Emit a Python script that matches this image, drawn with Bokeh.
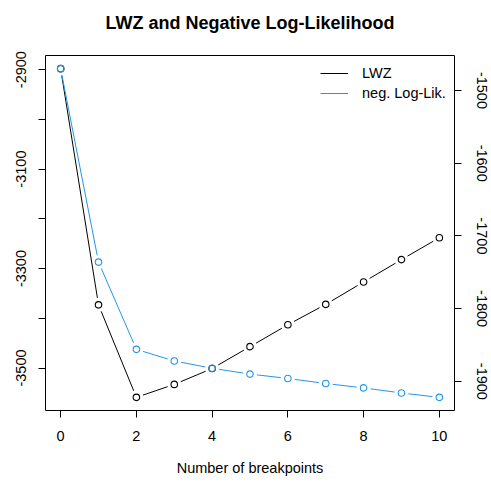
import math
from bokeh.plotting import figure
from bokeh.models import (Range1d, LinearAxis, FixedTicker, Legend, LegendItem,
                          NumeralTickFormatter, Title)
from bokeh.embed import file_html
from bokeh.resources import INLINE

# ---- data ----
breakpoints = [0, 1, 2, 3, 4, 5, 6, 7, 8, 9, 10]
lwz = [-2898, -3373, -3559, -3533, -3501, -3457, -3413, -3372, -3327, -3282, -3238]
neg_loglik = [-1470, -1736, -1856, -1872, -1882, -1890, -1896, -1903, -1909, -1916, -1922]
x_ticks = [0, 2, 4, 6, 8, 10]
left_major = [-3500, -3300, -3100, -2900]
left_minor = [-3400, -3200, -3000]
right_ticks = [-1900, -1800, -1700, -1600, -1500]

BLACK = "#000000"
BLUE = "#2297E6"
FONT = "Liberation Sans"
FS = "14.5px"

FW, FH = 409, 355
ML, MR, MT, MB = 45, 37, 55, 72


def ext(v):
    lo, hi = min(v), max(v)
    d = (hi - lo) * 0.04
    return Range1d(lo - d, hi + d)


xr = ext(breakpoints)
yr = ext(lwz)
yr2 = ext(neg_loglik)

p = figure(width=ML + FW + MR, height=MT + FH + MB, output_backend="svg",
           toolbar_location=None, x_range=xr, y_range=yr,
           min_border_left=ML, min_border_right=MR, min_border_top=MT,
           min_border_bottom=MB, title="LWZ and Negative Log-Likelihood")
p.extra_y_ranges = {"right": yr2}
p.background_fill_color = "white"
p.border_fill_color = "white"
p.outline_line_color = "black"
p.outline_line_width = 1
p.xgrid.visible = False
p.ygrid.visible = False

p.title.align = "center"
p.title.text_font = FONT
p.title.text_font_size = "18px"
p.title.text_font_style = "bold"
p.title.text_color = "black"
p.title.standoff = 19

# invisible spacer between the title and the plot box
p.add_layout(Title(text=" ", text_font_size="1px", standoff=10), "above")


def gapped(xs, ys, rx, ry, gap=7):
    x0, y0, x1, y1 = [], [], [], []
    sx = FW / (rx.end - rx.start)
    sy = FH / (ry.end - ry.start)
    for i in range(len(xs) - 1):
        ax, ay = (xs[i] - rx.start) * sx, (ys[i] - ry.start) * sy
        bx, by = (xs[i + 1] - rx.start) * sx, (ys[i + 1] - ry.start) * sy
        L = math.hypot(bx - ax, by - ay)
        if L <= 2 * gap:
            continue
        ux, uy = (bx - ax) / L, (by - ay) / L
        x0.append((ax + ux * gap) / sx + rx.start)
        y0.append((ay + uy * gap) / sy + ry.start)
        x1.append((bx - ux * gap) / sx + rx.start)
        y1.append((by - uy * gap) / sy + ry.start)
    return x0, y0, x1, y1


a0, b0, a1, b1 = gapped(breakpoints, lwz, xr, yr)
r_lwz = p.segment(x0=a0, y0=b0, x1=a1, y1=b1, line_color=BLACK, line_width=1)
p.scatter(breakpoints, lwz, marker="circle", size=6.5, fill_color=None,
          line_color=BLACK, line_width=1.1)

a0, b0, a1, b1 = gapped(breakpoints, neg_loglik, xr, yr2)
r_nll = p.segment(x0=a0, y0=b0, x1=a1, y1=b1, line_color=BLUE, line_width=1,
                  y_range_name="right")
p.scatter(breakpoints, neg_loglik, marker="circle", size=6.5, fill_color=None,
          line_color=BLUE, line_width=1.1, y_range_name="right")


def style_axis(ax):
    ax.axis_line_color = None
    ax.major_tick_out = 7
    ax.major_tick_in = 0
    ax.minor_tick_in = 0
    ax.minor_tick_out = 0
    ax.major_tick_line_color = "black"
    ax.major_label_text_font = FONT
    ax.major_label_text_font_size = FS
    ax.major_label_text_color = "black"
    ax.axis_label_text_font = FONT
    ax.axis_label_text_font_size = FS
    ax.axis_label_text_font_style = "normal"
    ax.axis_label_text_color = "black"
    ax.formatter = NumeralTickFormatter(format="0")


xa = p.xaxis[0]
style_axis(xa)
xa.ticker = FixedTicker(ticks=x_ticks)
xa.axis_label = "Number of breakpoints"
xa.major_label_standoff = 13
xa.axis_label_standoff = 16

ya = p.yaxis[0]
style_axis(ya)
ya.ticker = FixedTicker(ticks=left_major, minor_ticks=left_minor)
ya.minor_tick_out = 7
ya.minor_tick_line_color = "black"
ya.major_label_orientation = "vertical"
ya.major_label_standoff = 12

ra = LinearAxis(y_range_name="right", ticker=FixedTicker(ticks=right_ticks))
style_axis(ra)
ra.major_label_orientation = "vertical"
ra.major_label_standoff = 15
p.add_layout(ra, "right")

legend = Legend(items=[LegendItem(label="LWZ", renderers=[r_lwz]),
                       LegendItem(label="neg. Log-Lik.", renderers=[r_nll])],
                location=(275, 307), padding=0, margin=0, spacing=0,
                glyph_width=28, glyph_height=20, label_height=20,
                label_standoff=14, border_line_color=None,
                background_fill_alpha=0, label_text_font=FONT,
                label_text_font_size=FS, label_text_color="black")
p.add_layout(legend)

open("out.html", "w").write(file_html(p, INLINE))
